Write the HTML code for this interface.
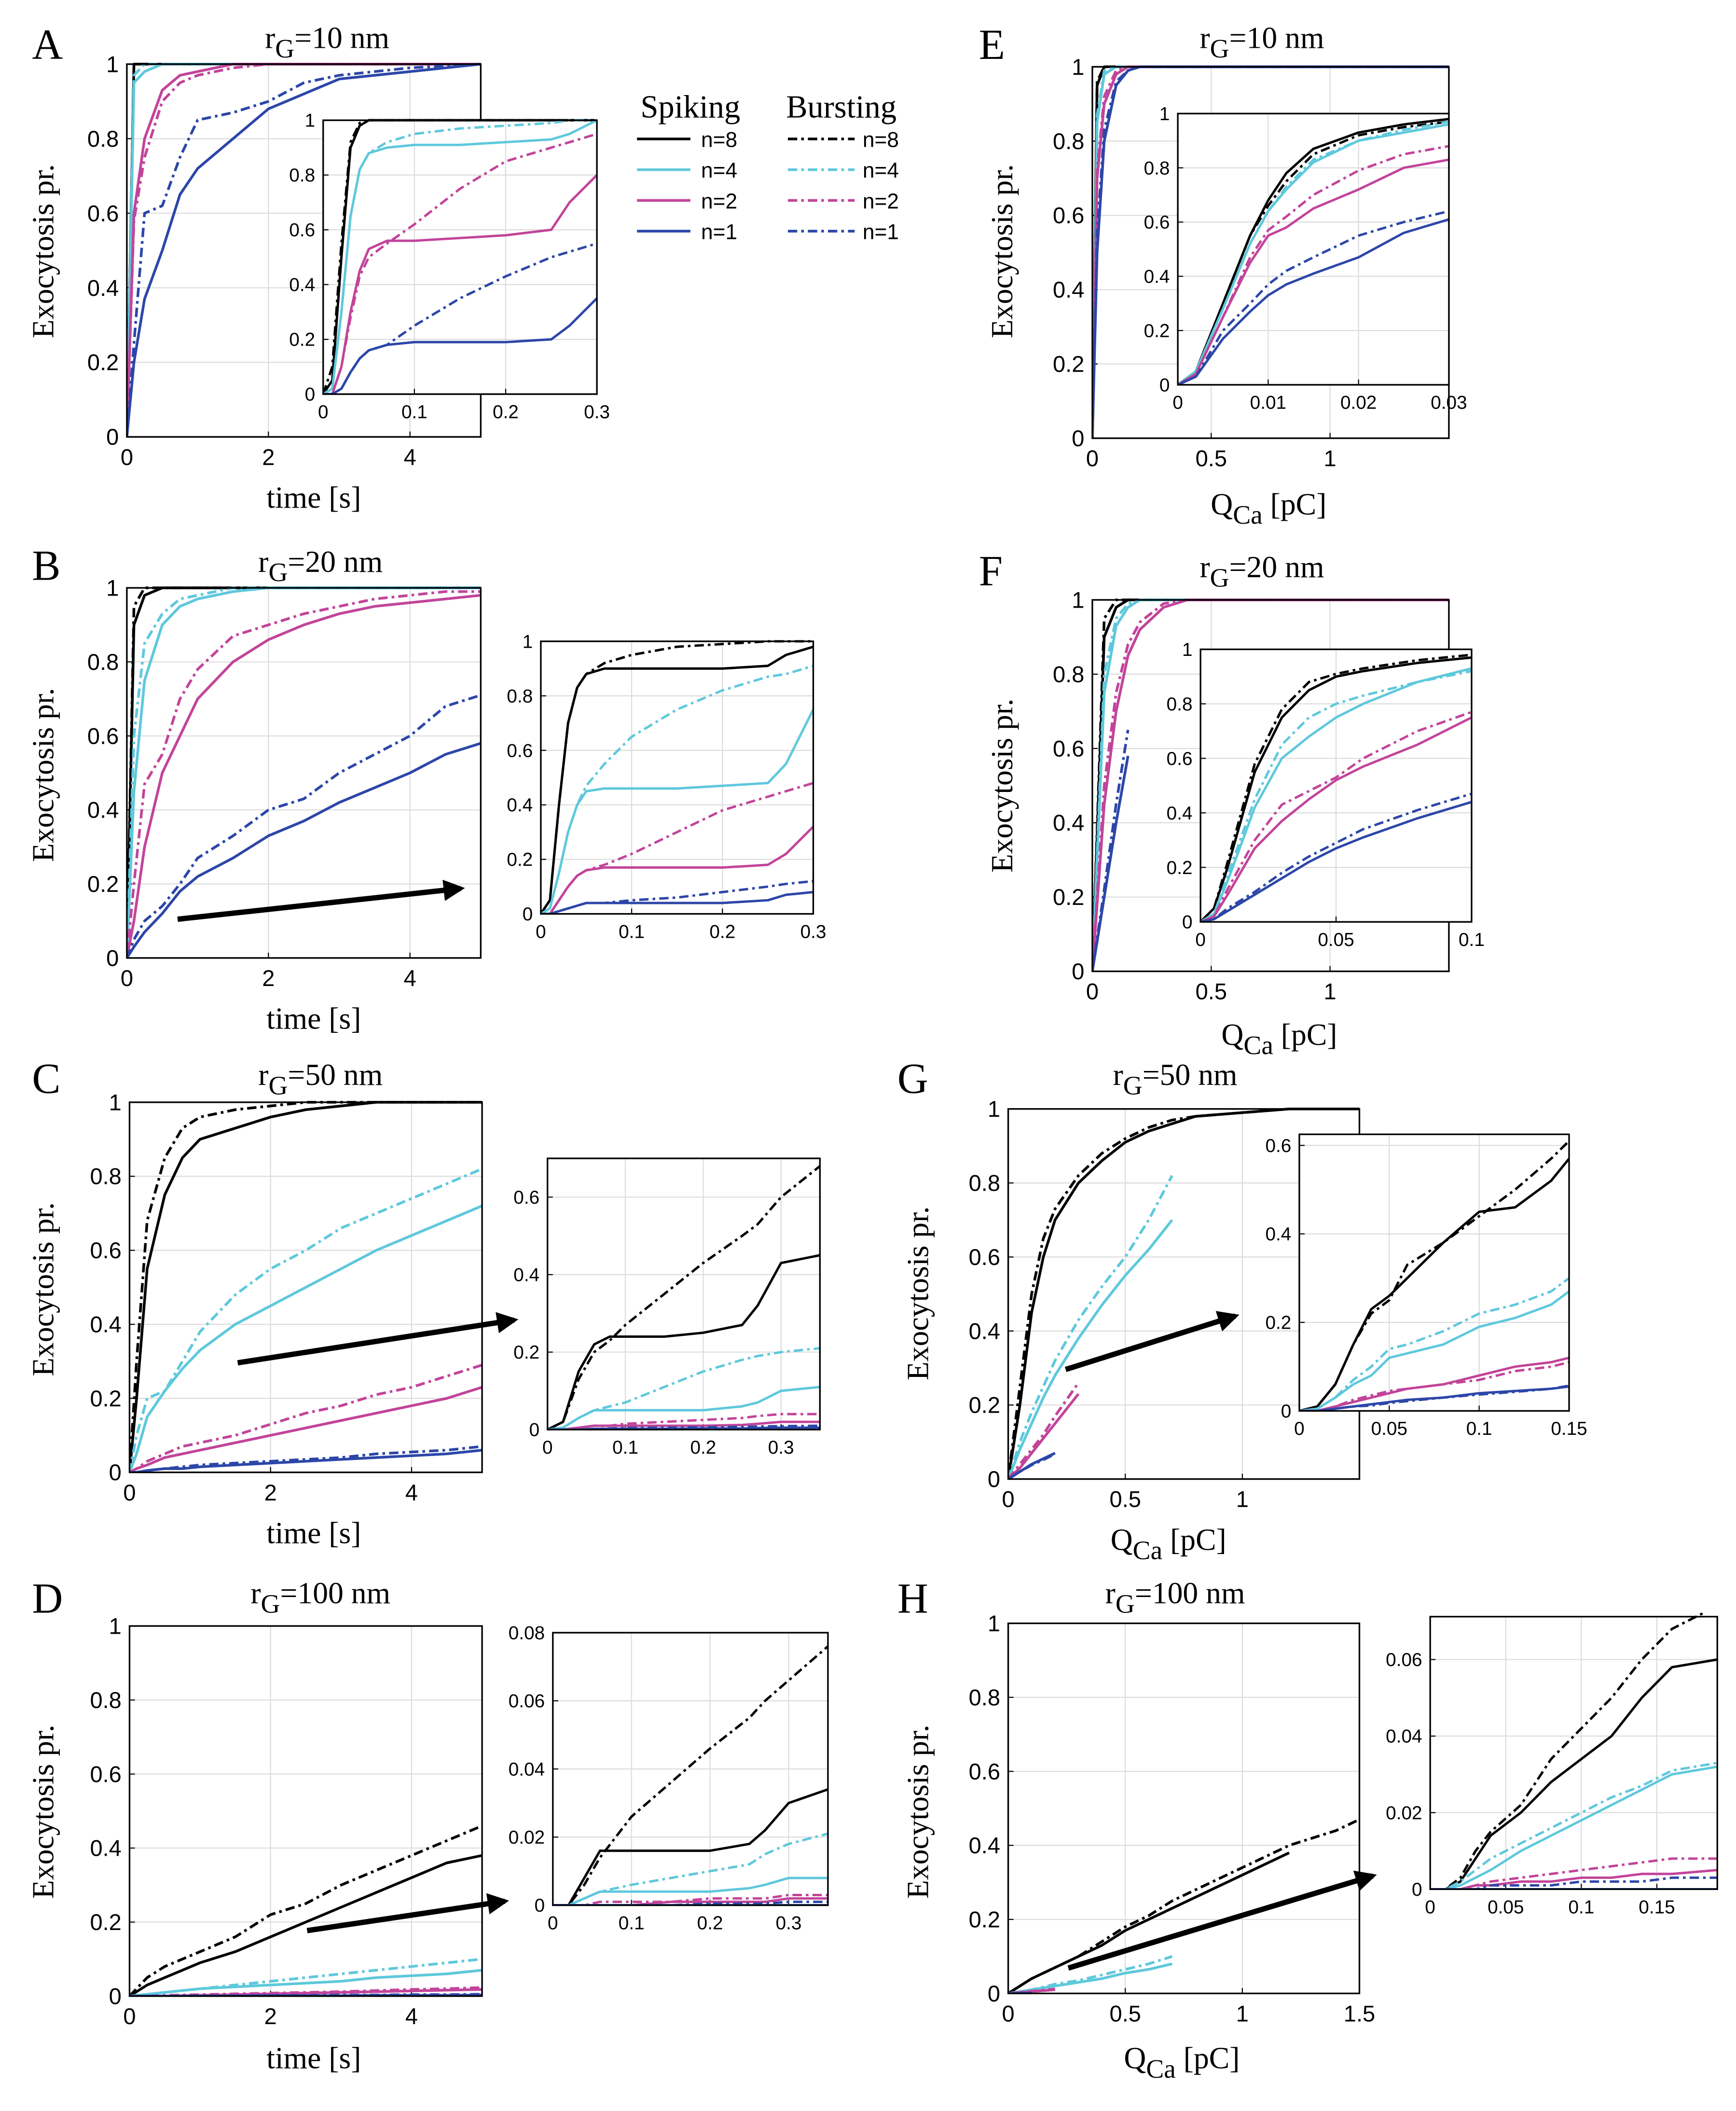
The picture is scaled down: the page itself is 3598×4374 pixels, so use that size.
<!DOCTYPE html>
<html><head><meta charset="utf-8"><style>
html,body{margin:0;padding:0;background:#fff}
svg{display:block}
text{font-family:"Liberation Sans",sans-serif}
.serif{font-family:"Liberation Serif",serif}
</style></head><body>
<svg id="fig" width="3598" height="4374" viewBox="0 0 1300 1580" preserveAspectRatio="none" xmlns="http://www.w3.org/2000/svg">
<defs><marker id="ah" viewBox="0 0 10 10" refX="8" refY="5" markerWidth="4" markerHeight="4" orient="auto"><path d="M0,0 L10,5 L0,10 z" fill="#000"/></marker></defs>
<g id="legend">
<text class="serif" x="517" y="88" font-size="24" text-anchor="middle">Spiking</text>
<text class="serif" x="630" y="88" font-size="24" text-anchor="middle">Bursting</text>
</g>
</svg>
<script>
// ---------- Data ----------
const A_x=[0,0.1,0.25,0.5,0.75,1,1.5,2,2.5,3,4,5];
const A_n8s=[0,1,1,1,1,1,1,1,1,1,1,1];
const A_n8b=[0,1,1,1,1,1,1,1,1,1,1,1];
const A_n4s=[0,0.95,0.98,1,1,1,1,1,1,1,1,1];
const A_n4b=[0,0.97,1,1,1,1,1,1,1,1,1,1];
const A_n2s=[0,0.6,0.8,0.93,0.97,0.98,1,1,1,1,1,1];
const A_n2b=[0,0.58,0.75,0.9,0.95,0.97,0.99,1,1,1,1,1];
const A_n1s=[0,0.2,0.37,0.5,0.65,0.72,0.8,0.88,0.92,0.96,0.98,1];
const A_n1b=[0,0.25,0.6,0.62,0.75,0.85,0.87,0.9,0.95,0.97,0.99,1];
const Ai_x=[0,0.01,0.02,0.03,0.04,0.05,0.07,0.1,0.15,0.2,0.25,0.27,0.3];
const Ai_n8s=[0,0.05,0.5,0.9,0.98,1,1,1,1,1,1,1,1];
const Ai_n8b=[0,0.1,0.55,0.92,0.99,1,1,1,1,1,1,1,1];
const Ai_n4s=[0,0.02,0.3,0.65,0.82,0.88,0.9,0.91,0.91,0.92,0.93,0.95,1];
const Ai_n4b=[0,0.02,0.3,0.65,0.82,0.88,0.92,0.95,0.97,0.98,0.99,1,1];
const Ai_n2s=[0,0,0.1,0.3,0.45,0.53,0.56,0.56,0.57,0.58,0.6,0.7,0.8];
const Ai_n2b=[0,0,0.1,0.28,0.43,0.5,0.55,0.62,0.75,0.85,0.9,0.92,0.95];
const Ai_n1s=[0,0,0.02,0.08,0.13,0.16,0.18,0.19,0.19,0.19,0.2,0.25,0.35];
const Ai_n1b=[0,0,0.02,0.08,0.13,0.16,0.18,0.25,0.35,0.43,0.5,0.52,0.55];

const B_x=[0,0.1,0.25,0.5,0.75,1,1.5,2,2.5,3,3.5,4,4.5,5];
const B_n8s=[0,0.9,0.98,1,1,1,1,1,1,1,1,1,1,1];
const B_n8b=[0,0.95,1,1,1,1,1,1,1,1,1,1,1,1];
const B_n4s=[0,0.45,0.75,0.9,0.95,0.97,0.99,1,1,1,1,1,1,1];
const B_n4b=[0,0.6,0.85,0.93,0.97,0.98,1,1,1,1,1,1,1,1];
const B_n2s=[0,0.1,0.3,0.5,0.6,0.7,0.8,0.86,0.9,0.93,0.95,0.96,0.97,0.98];
const B_n2b=[0,0.2,0.47,0.55,0.7,0.78,0.87,0.9,0.93,0.95,0.97,0.98,0.99,0.99];
const B_n1s=[0,0.03,0.07,0.12,0.18,0.22,0.27,0.33,0.37,0.42,0.46,0.5,0.55,0.58];
const B_n1b=[0,0.05,0.1,0.14,0.2,0.27,0.33,0.4,0.43,0.5,0.55,0.6,0.68,0.71];
const Bi_x=[0,0.01,0.02,0.03,0.04,0.05,0.07,0.1,0.15,0.2,0.25,0.27,0.3];
const Bi_n8s=[0,0.05,0.4,0.7,0.83,0.88,0.9,0.9,0.9,0.9,0.91,0.95,0.98];
const Bi_n8b=[0,0.05,0.4,0.7,0.83,0.88,0.92,0.95,0.98,0.99,1,1,1];
const Bi_n4s=[0,0.02,0.15,0.3,0.4,0.45,0.46,0.46,0.46,0.47,0.48,0.55,0.75];
const Bi_n4b=[0,0.02,0.15,0.3,0.4,0.47,0.55,0.65,0.75,0.82,0.87,0.88,0.91];
const Bi_n2s=[0,0,0.05,0.1,0.14,0.16,0.17,0.17,0.17,0.17,0.18,0.22,0.32];
const Bi_n2b=[0,0,0.05,0.1,0.14,0.16,0.18,0.22,0.3,0.38,0.43,0.45,0.48];
const Bi_n1s=[0,0,0.01,0.02,0.03,0.04,0.04,0.04,0.04,0.04,0.05,0.07,0.08];
const Bi_n1b=[0,0,0.01,0.02,0.03,0.04,0.04,0.05,0.06,0.08,0.1,0.11,0.12];

const C_x=[0,0.1,0.25,0.5,0.75,1,1.5,2,2.5,3,3.5,4,4.5,5];
const C_n8s=[0,0.2,0.55,0.75,0.85,0.9,0.93,0.96,0.98,0.99,1,1,1,1];
const C_n8b=[0,0.3,0.68,0.85,0.93,0.96,0.98,0.99,1,1,1,1,1,1];
const C_n4s=[0,0.05,0.15,0.22,0.28,0.33,0.4,0.45,0.5,0.55,0.6,0.64,0.68,0.72];
const C_n4b=[0,0.1,0.2,0.22,0.3,0.38,0.48,0.55,0.6,0.66,0.7,0.74,0.78,0.82];
const C_n2s=[0,0.01,0.02,0.04,0.05,0.06,0.08,0.1,0.12,0.14,0.16,0.18,0.2,0.23];
const C_n2b=[0,0.01,0.03,0.05,0.07,0.08,0.1,0.13,0.16,0.18,0.21,0.23,0.26,0.29];
const C_n1s=[0,0,0.005,0.01,0.01,0.015,0.02,0.025,0.03,0.035,0.04,0.045,0.05,0.06];
const C_n1b=[0,0,0.005,0.01,0.015,0.02,0.025,0.03,0.035,0.04,0.05,0.055,0.06,0.07];
const Ci_x=[0,0.02,0.04,0.06,0.08,0.1,0.15,0.2,0.25,0.27,0.3,0.35];
const Ci_n8s=[0,0.02,0.15,0.22,0.24,0.24,0.24,0.25,0.27,0.32,0.43,0.45];
const Ci_n8b=[0,0.02,0.13,0.2,0.23,0.27,0.35,0.43,0.5,0.53,0.6,0.68];
const Ci_n4s=[0,0.005,0.03,0.05,0.05,0.05,0.05,0.05,0.06,0.07,0.1,0.11];
const Ci_n4b=[0,0.005,0.03,0.05,0.06,0.07,0.11,0.15,0.18,0.19,0.2,0.21];
const Ci_n2s=[0,0,0.005,0.01,0.01,0.01,0.01,0.01,0.012,0.015,0.02,0.02];
const Ci_n2b=[0,0,0.005,0.01,0.01,0.015,0.02,0.025,0.03,0.035,0.04,0.04];
const Ci_n1s=[0,0,0,0.002,0.002,0.002,0.002,0.003,0.003,0.004,0.005,0.005];
const Ci_n1b=[0,0,0,0.002,0.003,0.004,0.005,0.006,0.007,0.008,0.009,0.01];

const D_x=[0,0.25,0.5,1,1.5,2,2.5,3,3.5,4,4.5,5];
const D_n8s=[0,0.03,0.05,0.09,0.12,0.16,0.2,0.24,0.28,0.32,0.36,0.38];
const D_n8b=[0,0.05,0.08,0.12,0.16,0.22,0.25,0.3,0.34,0.38,0.42,0.46];
const D_n4s=[0,0.005,0.01,0.02,0.025,0.03,0.035,0.04,0.05,0.055,0.06,0.07];
const D_n4b=[0,0.005,0.01,0.02,0.03,0.04,0.05,0.06,0.07,0.08,0.09,0.1];
const D_n2s=[0,0,0,0.002,0.004,0.006,0.008,0.01,0.012,0.014,0.016,0.018];
const D_n2b=[0,0,0.002,0.004,0.006,0.008,0.01,0.012,0.015,0.018,0.02,0.023];
const D_n1s=[0,0,0,0,0,0.001,0.001,0.001,0.002,0.002,0.002,0.003];
const D_n1b=[0,0,0,0.001,0.001,0.002,0.002,0.003,0.003,0.004,0.004,0.005];
const Di_x=[0,0.02,0.04,0.06,0.08,0.1,0.15,0.2,0.25,0.27,0.3,0.35];
const Di_n8s=[0,0,0.008,0.016,0.016,0.016,0.016,0.016,0.018,0.022,0.03,0.034];
const Di_n8b=[0,0,0.006,0.014,0.02,0.026,0.036,0.046,0.055,0.06,0.066,0.076];
const Di_n4s=[0,0,0.002,0.004,0.004,0.004,0.004,0.004,0.005,0.006,0.008,0.008];
const Di_n4b=[0,0,0.002,0.004,0.005,0.006,0.008,0.01,0.012,0.015,0.018,0.021];
const Di_n2s=[0,0,0,0,0,0,0.001,0.001,0.001,0.001,0.002,0.002];
const Di_n2b=[0,0,0,0.001,0.001,0.001,0.001,0.002,0.002,0.002,0.003,0.003];
const Di_n1s=[0,0,0,0,0,0,0,0,0,0,0,0];
const Di_n1b=[0,0,0,0,0,0,0,0.0005,0.0005,0.0005,0.001,0.001];

const E_x=[0,0.02,0.05,0.1,0.15,0.2,0.3,1.5];
const E_n8s=[0,0.95,1,1,1,1,1,1];
const E_n8b=[0,0.96,1,1,1,1,1,1];
const E_n4s=[0,0.85,0.98,1,1,1,1,1];
const E_n4b=[0,0.87,0.99,1,1,1,1,1];
const E_n2s=[0,0.7,0.9,0.98,1,1,1,1];
const E_n2b=[0,0.72,0.92,0.99,1,1,1,1];
const E_n1s=[0,0.5,0.8,0.95,0.99,1,1,1];
const E_n1b=[0,0.55,0.83,0.96,0.99,1,1,1];
const Ei_x=[0,0.002,0.005,0.008,0.01,0.012,0.015,0.02,0.025,0.03];
const Ei_n8s=[0,0.05,0.3,0.55,0.68,0.78,0.87,0.93,0.96,0.98];
const Ei_n8b=[0,0.05,0.3,0.55,0.66,0.75,0.85,0.92,0.95,0.97];
const Ei_n4s=[0,0.05,0.28,0.52,0.64,0.72,0.82,0.9,0.93,0.96];
const Ei_n4b=[0,0.05,0.28,0.52,0.64,0.73,0.83,0.9,0.94,0.97];
const Ei_n2s=[0,0.04,0.25,0.45,0.55,0.58,0.65,0.72,0.8,0.83];
const Ei_n2b=[0,0.04,0.25,0.47,0.57,0.62,0.7,0.79,0.85,0.88];
const Ei_n1s=[0,0.03,0.17,0.27,0.33,0.37,0.41,0.47,0.56,0.61];
const Ei_n1b=[0,0.03,0.2,0.3,0.37,0.42,0.47,0.55,0.6,0.64];

const F_x=[0,0.05,0.1,0.15,0.2,0.3,0.4,0.5,1,1.5];
const F_n8s=[0,0.9,0.98,1,1,1,1,1,1,1];
const F_n8b=[0,0.95,1,1,1,1,1,1,1,1];
const F_n4s=[0,0.75,0.93,0.98,1,1,1,1,1,1];
const F_n4b=[0,0.8,0.95,0.99,1,1,1,1,1,1];
const F_n2s=[0,0.45,0.7,0.85,0.92,0.98,1,1,1,1];
const F_n2b=[0,0.5,0.75,0.88,0.94,0.99,1,1,1,1];
const F_n1s=[0,0.2,0.4,0.58,null,null,null,null,null,null];
const F_n1b=[0,0.22,0.45,0.65,null,null,null,null,null,null];
const Fi_x=[0,0.005,0.01,0.02,0.03,0.04,0.05,0.06,0.08,0.1];
const Fi_n8s=[0,0.05,0.2,0.55,0.75,0.85,0.9,0.92,0.95,0.97];
const Fi_n8b=[0,0.05,0.22,0.58,0.78,0.88,0.91,0.93,0.96,0.98];
const Fi_n4s=[0,0.03,0.15,0.42,0.6,0.68,0.75,0.8,0.88,0.93];
const Fi_n4b=[0,0.03,0.17,0.45,0.65,0.75,0.8,0.83,0.88,0.92];
const Fi_n2s=[0,0.02,0.1,0.27,0.37,0.45,0.52,0.57,0.65,0.75];
const Fi_n2b=[0,0.02,0.12,0.3,0.43,0.48,0.53,0.6,0.7,0.77];
const Fi_n1s=[0,0.01,0.04,0.1,0.16,0.22,0.27,0.31,0.38,0.44];
const Fi_n1b=[0,0.01,0.05,0.11,0.18,0.24,0.29,0.34,0.41,0.47];

const G_x=[0,0.05,0.1,0.15,0.2,0.3,0.4,0.5,0.6,0.7,0.8,1,1.2,1.5];
const G_n8s=[0,0.2,0.45,0.6,0.7,0.8,0.86,0.91,0.94,0.96,0.98,0.99,1,1];
const G_n8b=[0,0.25,0.5,0.65,0.73,0.82,0.88,0.92,0.95,0.97,0.98,0.99,1,1];
const G_n4s=[0,0.08,0.15,0.22,0.28,0.38,0.47,0.55,0.62,0.7,null,null,null,null];
const G_n4b=[0,0.1,0.18,0.25,0.32,0.43,0.52,0.6,0.7,0.82,null,null,null,null];
const G_n2s=[0,0.03,0.07,0.11,0.15,0.23,null,null,null,null,null,null,null,null];
const G_n2b=[0,0.04,0.08,0.12,0.17,0.26,null,null,null,null,null,null,null,null];
const G_n1s=[0,0.02,0.04,0.055,0.07,null,null,null,null,null,null,null,null,null];
const G_n1b=[0,0.02,0.038,0.052,0.068,null,null,null,null,null,null,null,null,null];
const Gi_x=[0,0.01,0.02,0.03,0.04,0.05,0.06,0.08,0.1,0.12,0.14,0.15];
const Gi_n8s=[0,0.01,0.06,0.15,0.23,0.26,0.3,0.38,0.45,0.46,0.52,0.57];
const Gi_n8b=[0,0.01,0.06,0.15,0.22,0.25,0.33,0.38,0.44,0.5,0.57,0.61];
const Gi_n4s=[0,0.005,0.03,0.06,0.08,0.12,0.13,0.15,0.19,0.21,0.24,0.27];
const Gi_n4b=[0,0.005,0.03,0.07,0.1,0.14,0.15,0.18,0.22,0.24,0.27,0.3];
const Gi_n2s=[0,0,0.01,0.02,0.03,0.04,0.05,0.06,0.08,0.1,0.11,0.12];
const Gi_n2b=[0,0,0.01,0.025,0.035,0.045,0.05,0.06,0.07,0.09,0.1,0.11];
const Gi_n1s=[0,0,0.005,0.01,0.015,0.02,0.025,0.03,0.04,0.045,0.05,0.055];
const Gi_n1b=[0,0,0.005,0.01,0.012,0.018,0.022,0.03,0.037,0.043,0.05,0.057];

const H_x=[0,0.1,0.2,0.3,0.4,0.5,0.6,0.7,0.8,0.9,1,1.1,1.2,1.3,1.4,1.5];
const H_n8s=[0,0.04,0.07,0.1,0.13,0.17,0.2,0.23,0.26,0.29,0.32,0.35,0.38,null,null,null];
const H_n8b=[0,0.04,0.07,0.1,0.14,0.18,0.21,0.25,0.28,0.31,0.34,0.37,0.4,0.42,0.44,0.47];
const H_n4s=[0,0.01,0.02,0.03,0.04,0.055,0.065,0.08,null,null,null,null,null,null,null,null];
const H_n4b=[0,0.01,0.025,0.035,0.05,0.065,0.08,0.1,null,null,null,null,null,null,null,null];
const H_n2s=[0,0.005,0.01,null,null,null,null,null,null,null,null,null,null,null,null,null];
const H_n2b=[0,0.006,0.012,null,null,null,null,null,null,null,null,null,null,null,null,null];
const H_n1s=[0,0.001,null,null,null,null,null,null,null,null,null,null,null,null,null,null];
const H_n1b=[0,0.001,null,null,null,null,null,null,null,null,null,null,null,null,null,null];
const Hi_x=[0,0.01,0.02,0.03,0.04,0.06,0.08,0.1,0.12,0.14,0.16,0.19];
const Hi_n8s=[0,0,0.002,0.008,0.014,0.02,0.028,0.034,0.04,0.05,0.058,0.06];
const Hi_n8b=[0,0,0.003,0.01,0.015,0.022,0.034,0.042,0.05,0.06,0.068,0.074];
const Hi_n4s=[0,0,0.001,0.003,0.005,0.01,0.014,0.018,0.022,0.026,0.03,0.032];
const Hi_n4b=[0,0,0.002,0.005,0.008,0.012,0.016,0.02,0.024,0.027,0.031,0.033];
const Hi_n2s=[0,0,0,0.001,0.001,0.002,0.002,0.003,0.003,0.004,0.004,0.005];
const Hi_n2b=[0,0,0,0.001,0.002,0.003,0.004,0.005,0.006,0.007,0.008,0.008];
const Hi_n1s=[0,0,0,0,0,0,0,0,0,0,0,0];
const Hi_n1b=[0,0,0,0,0.001,0.001,0.001,0.002,0.002,0.002,0.003,0.003];

const yTicksMain=[0,0.2,0.4,0.6,0.8,1];
const yTickLabelsMain=["0","0.2","0.4","0.6","0.8","1"];

// ---------- Rendering ----------
const NS="http://www.w3.org/2000/svg";
const svg=document.getElementById('fig');
const COL={n8:"#000000",n4:"#5ec8dc",n2:"#c2449a",n1:"#2c46a8"};
function mk(tag,attrs,parent){const e=document.createElementNS(NS,tag);for(const k in attrs)e.setAttribute(k,attrs[k]);(parent||svg).appendChild(e);return e;}

function axis(cfg){
  const g=mk('g',{});
  
  
  const sx=v=>cfg.x0+(v-cfg.xmin)/(cfg.xmax-cfg.xmin)*(cfg.x1-cfg.x0);
  const sy=v=>cfg.y0-(v-cfg.ymin)/(cfg.ymax-cfg.ymin)*(cfg.y0-cfg.y1);
  mk('rect',{x:cfg.x0,y:cfg.y1,width:cfg.x1-cfg.x0,height:cfg.y0-cfg.y1,fill:'#fff'},g);
  const fs=cfg.fs;
  cfg.xt.forEach((t,i)=>{const X=sx(t);
    mk('line',{x1:X,x2:X,y1:cfg.y1,y2:cfg.y0,stroke:'#dcdcdc','stroke-width':0.8},g);
    mk('line',{x1:X,x2:X,y1:cfg.y0,y2:cfg.y0-4,stroke:'#000','stroke-width':0.8},g);
    const t1=mk('text',{x:X,y:cfg.y0+fs+4,'font-size':fs,'text-anchor':'middle'},g);
    
    
    t1.textContent=cfg.xl[i];});
  cfg.yt.forEach((t,i)=>{const Y=sy(t);
    mk('line',{x1:cfg.x0,x2:cfg.x1,y1:Y,y2:Y,stroke:'#dcdcdc','stroke-width':0.8},g);
    mk('line',{x1:cfg.x0,x2:cfg.x0+4,y1:Y,y2:Y,stroke:'#000','stroke-width':0.8},g);
    const t2=mk('text',{x:cfg.x0-6,y:Y+fs*0.35,'font-size':fs,'text-anchor':'end'},g);
    
    
    t2.textContent=cfg.yl[i];});
  const cp='cp'+cfg.name;
  const clip=mk('clipPath',{id:cp},g);mk('rect',{x:cfg.x0,y:cfg.y1-3,width:cfg.x1-cfg.x0,height:cfg.y0-cfg.y1+3},clip);
  const sg=mk('g',{'clip-path':'url(#'+cp+')'},g);
  cfg.series.forEach(s=>{
    let d='',pen=false;
    for(let i=0;i<cfg.xs.length;i++){const v=s.ys[i];
      if(v===null||v===undefined){pen=false;continue;}
      d+=(pen?'L':'M')+sx(cfg.xs[i]).toFixed(2)+','+sy(v).toFixed(2);pen=true;}
    const p=mk('path',{d:d,fill:'none',stroke:COL[s.n],'stroke-width':cfg.lw,'stroke-linejoin':'round'},sg);
    if(s.b)p.setAttribute('stroke-dasharray','7,3,2,3');
    
    
  });
  mk('rect',{x:cfg.x0,y:cfg.y1,width:cfg.x1-cfg.x0,height:cfg.y0-cfg.y1,fill:'none',stroke:'#000','stroke-width':1.2},g);
}
function ser(p){return [
 {n:'n8',b:false,ys:p.n8s},{n:'n8',b:true,ys:p.n8b},{n:'n4',b:false,ys:p.n4s},{n:'n4',b:true,ys:p.n4b},
 {n:'n2',b:false,ys:p.n2s},{n:'n2',b:true,ys:p.n2b},{n:'n1',b:false,ys:p.n1s},{n:'n1',b:true,ys:p.n1b}];}

function texts(letter,lx,ly,title,tx,ty,xlabel,q,xlx,xly,ylx,yly){
  const L=mk('text',{x:lx,y:ly,'font-size':32,class:'serif'});
  
  
  L.textContent=letter;
  const T=mk('text',{x:tx,y:ty,'font-size':23,class:'serif','text-anchor':'middle'});
  
  
  T.innerHTML='r<tspan dy="7" font-size="20">G</tspan><tspan dy="-7">='+title+'</tspan>';
  const X=mk('text',{x:xlx,y:xly,'font-size':23,class:'serif','text-anchor':'middle'});
  
  
  X.innerHTML=q?'Q<tspan dy="7" font-size="20">Ca</tspan><tspan dy="-7"> [pC]</tspan>':'time [s]';
  const Y=mk('text',{x:0,y:0,'font-size':23,class:'serif','text-anchor':'middle',transform:'translate('+ylx+','+yly+') rotate(-90)'});
  
  
  Y.textContent='Exocytosis pr.';
}
function arrow(x1,y1,x2,y2,name){const a=mk('line',{x1,y1,x2,y2,stroke:'#000','stroke-width':4,'marker-end':'url(#ah)'});
  
  }

const mainT={fs:17,lw:2};
const tX=[0,2,4],tXL=["0","2","4"];
const qX=[0,0.5,1],qXL=["0","0.5","1"];
const inX=[0,0.1,0.2,0.3],inXL=["0","0.1","0.2","0.3"];
const in6=[0,0.2,0.4,0.6,0.8,1],in6L=["0","0.2","0.4","0.6","0.8","1"];
// A
texts('A',24,44,'10 nm',245,36,'time [s]',false,235,380,40,188);
axis({name:'panel-a-main',x0:95,x1:360,y0:327,y1:48,xmin:0,xmax:5,ymin:0,ymax:1,xt:tX,xl:tXL,yt:yTicksMain,yl:yTickLabelsMain,fs:17,lw:2,xs:A_x,series:ser({n8s:A_n8s,n8b:A_n8b,n4s:A_n4s,n4b:A_n4b,n2s:A_n2s,n2b:A_n2b,n1s:A_n1s,n1b:A_n1b})});
axis({name:'panel-a-inset',x0:242,x1:447,y0:295,y1:90,xmin:0,xmax:0.3,ymin:0,ymax:1,xt:inX,xl:inXL,yt:in6,yl:in6L,fs:14,lw:1.8,xs:Ai_x,series:ser({n8s:Ai_n8s,n8b:Ai_n8b,n4s:Ai_n4s,n4b:Ai_n4b,n2s:Ai_n2s,n2b:Ai_n2b,n1s:Ai_n1s,n1b:Ai_n1b})});
// B
texts('B',24,434,'20 nm',240,428,'time [s]',false,235,770,40,580);
axis({name:'panel-b-main',x0:95,x1:360,y0:717,y1:440,xmin:0,xmax:5,ymin:0,ymax:1,xt:tX,xl:tXL,yt:yTicksMain,yl:yTickLabelsMain,fs:17,lw:2,xs:B_x,series:ser({n8s:B_n8s,n8b:B_n8b,n4s:B_n4s,n4b:B_n4b,n2s:B_n2s,n2b:B_n2b,n1s:B_n1s,n1b:B_n1b})});
axis({name:'panel-b-inset',x0:405,x1:609,y0:684,y1:480,xmin:0,xmax:0.3,ymin:0,ymax:1,xt:inX,xl:inXL,yt:in6,yl:in6L,fs:14,lw:1.8,xs:Bi_x,series:ser({n8s:Bi_n8s,n8b:Bi_n8b,n4s:Bi_n4s,n4b:Bi_n4b,n2s:Bi_n2s,n2b:Bi_n2b,n1s:Bi_n1s,n1b:Bi_n1b})});
arrow(133,688,345,665,'arrow-b');
// C
texts('C',24,818,'50 nm',240,812,'time [s]',false,235,1155,40,965);
axis({name:'panel-c-main',x0:97,x1:361,y0:1102,y1:825,xmin:0,xmax:5,ymin:0,ymax:1,xt:tX,xl:tXL,yt:yTicksMain,yl:yTickLabelsMain,fs:17,lw:2,xs:C_x,series:ser({n8s:C_n8s,n8b:C_n8b,n4s:C_n4s,n4b:C_n4b,n2s:C_n2s,n2b:C_n2b,n1s:C_n1s,n1b:C_n1b})});
axis({name:'panel-c-inset',x0:410,x1:614,y0:1070,y1:867,xmin:0,xmax:0.35,ymin:0,ymax:0.7,xt:inX,xl:inXL,yt:[0,0.2,0.4,0.6],yl:["0","0.2","0.4","0.6"],fs:14,lw:1.8,xs:Ci_x,series:ser({n8s:Ci_n8s,n8b:Ci_n8b,n4s:Ci_n4s,n4b:Ci_n4b,n2s:Ci_n2s,n2b:Ci_n2b,n1s:Ci_n1s,n1b:Ci_n1b})});
arrow(178,1020,385,988,'arrow-c');
// D
texts('D',24,1207,'100 nm',240,1200,'time [s]',false,235,1548,40,1356);
axis({name:'panel-d-main',x0:97,x1:361,y0:1494,y1:1217,xmin:0,xmax:5,ymin:0,ymax:1,xt:tX,xl:tXL,yt:yTicksMain,yl:yTickLabelsMain,fs:17,lw:2,xs:D_x,series:ser({n8s:D_n8s,n8b:D_n8b,n4s:D_n4s,n4b:D_n4b,n2s:D_n2s,n2b:D_n2b,n1s:D_n1s,n1b:D_n1b})});
axis({name:'panel-d-inset',x0:414,x1:620,y0:1426,y1:1222,xmin:0,xmax:0.35,ymin:0,ymax:0.08,xt:inX,xl:inXL,yt:[0,0.02,0.04,0.06,0.08],yl:["0","0.02","0.04","0.06","0.08"],fs:14,lw:1.8,xs:Di_x,series:ser({n8s:Di_n8s,n8b:Di_n8b,n4s:Di_n4s,n4b:Di_n4b,n2s:Di_n2s,n2b:Di_n2b,n1s:Di_n1s,n1b:Di_n1b})});
arrow(230,1445,378,1423,'arrow-d');
// E
texts('E',733,44,'10 nm',945,36,'',true,950,385,758,188);
axis({name:'panel-e-main',x0:818,x1:1085,y0:328,y1:50,xmin:0,xmax:1.5,ymin:0,ymax:1,xt:qX,xl:qXL,yt:yTicksMain,yl:yTickLabelsMain,fs:17,lw:2,xs:E_x,series:ser({n8s:E_n8s,n8b:E_n8b,n4s:E_n4s,n4b:E_n4b,n2s:E_n2s,n2b:E_n2b,n1s:E_n1s,n1b:E_n1b})});
axis({name:'panel-e-inset',x0:882,x1:1085,y0:288,y1:85,xmin:0,xmax:0.03,ymin:0,ymax:1,xt:[0,0.01,0.02,0.03],xl:["0","0.01","0.02","0.03"],yt:in6,yl:in6L,fs:14,lw:1.8,xs:Ei_x,series:ser({n8s:Ei_n8s,n8b:Ei_n8b,n4s:Ei_n4s,n4b:Ei_n4b,n2s:Ei_n2s,n2b:Ei_n2b,n1s:Ei_n1s,n1b:Ei_n1b})});
// F
texts('F',733,438,'20 nm',945,432,'',true,958,782,758,588);
axis({name:'panel-f-main',x0:818,x1:1085,y0:727,y1:449,xmin:0,xmax:1.5,ymin:0,ymax:1,xt:qX,xl:qXL,yt:yTicksMain,yl:yTickLabelsMain,fs:17,lw:2,xs:F_x,series:ser({n8s:F_n8s,n8b:F_n8b,n4s:F_n4s,n4b:F_n4b,n2s:F_n2s,n2b:F_n2b,n1s:F_n1s,n1b:F_n1b})});
axis({name:'panel-f-inset',x0:899,x1:1102,y0:690,y1:486,xmin:0,xmax:0.1,ymin:0,ymax:1,xt:[0,0.05,0.1],xl:["0","0.05","0.1"],yt:in6,yl:in6L,fs:14,lw:1.8,xs:Fi_x,series:ser({n8s:Fi_n8s,n8b:Fi_n8b,n4s:Fi_n4s,n4b:Fi_n4b,n2s:Fi_n2s,n2b:Fi_n2b,n1s:Fi_n1s,n1b:Fi_n1b})});
// G
texts('G',672,818,'50 nm',880,812,'',true,875,1160,695,968);
axis({name:'panel-g-main',x0:755,x1:1018,y0:1107,y1:830,xmin:0,xmax:1.5,ymin:0,ymax:1,xt:qX,xl:qXL,yt:yTicksMain,yl:yTickLabelsMain,fs:17,lw:2,xs:G_x,series:ser({n8s:G_n8s,n8b:G_n8b,n4s:G_n4s,n4b:G_n4b,n2s:G_n2s,n2b:G_n2b,n1s:G_n1s,n1b:G_n1b})});
axis({name:'panel-g-inset',x0:973,x1:1175,y0:1056,y1:849,xmin:0,xmax:0.15,ymin:0,ymax:0.625,xt:[0,0.05,0.1,0.15],xl:["0","0.05","0.1","0.15"],yt:[0,0.2,0.4,0.6],yl:["0","0.2","0.4","0.6"],fs:14,lw:1.8,xs:Gi_x,series:ser({n8s:Gi_n8s,n8b:Gi_n8b,n4s:Gi_n4s,n4b:Gi_n4b,n2s:Gi_n2s,n2b:Gi_n2b,n1s:Gi_n1s,n1b:Gi_n1b})});
arrow(798,1025,925,985,'arrow-g');
// H
texts('H',672,1207,'100 nm',880,1200,'',true,885,1548,695,1356);
axis({name:'panel-h-main',x0:755,x1:1018,y0:1492,y1:1215,xmin:0,xmax:1.5,ymin:0,ymax:1,xt:[0,0.5,1,1.5],xl:["0","0.5","1","1.5"],yt:yTicksMain,yl:yTickLabelsMain,fs:17,lw:2,xs:H_x,series:ser({n8s:H_n8s,n8b:H_n8b,n4s:H_n4s,n4b:H_n4b,n2s:H_n2s,n2b:H_n2b,n1s:H_n1s,n1b:H_n1b})});
axis({name:'panel-h-inset',x0:1071,x1:1286,y0:1414,y1:1210,xmin:0,xmax:0.19,ymin:0,ymax:0.0712,xt:[0,0.05,0.1,0.15],xl:["0","0.05","0.1","0.15"],yt:[0,0.02,0.04,0.06],yl:["0","0.02","0.04","0.06"],fs:14,lw:1.8,xs:Hi_x,series:ser({n8s:Hi_n8s,n8b:Hi_n8b,n4s:Hi_n4s,n4b:Hi_n4b,n2s:Hi_n2s,n2b:Hi_n2b,n1s:Hi_n1s,n1b:Hi_n1b})});
arrow(800,1473,1028,1404,'arrow-h');

// Legend
const leg=document.getElementById('legend');
const legN=['n=8','n=4','n=2','n=1'],legK=['n8','n4','n2','n1'];
legN.forEach((lab,i)=>{const y=104+i*23;
  const a=mk('line',{x1:477,x2:517,y1:y,y2:y,stroke:COL[legK[i]],'stroke-width':2},leg);
  
  
  const t=mk('text',{x:525,y:y+6,'font-size':16},leg);t.textContent=lab;
  
  
  const b=mk('line',{x1:590,x2:640,y1:y,y2:y,stroke:COL[legK[i]],'stroke-width':2,'stroke-dasharray':'7,3,2,3'},leg);
  
  
  const t2=mk('text',{x:646,y:y+6,'font-size':16},leg);t2.textContent=lab;
  
  
});
svg.appendChild(leg);
</script>
</body></html>
